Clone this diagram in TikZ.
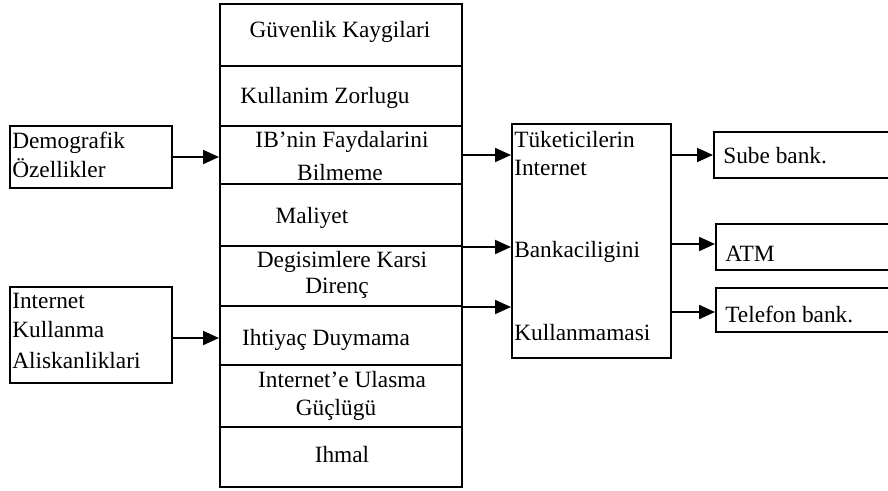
\documentclass[tikz,border=0pt]{standalone}
\usepackage{fontspec}
\setmainfont{Liberation Serif}
\usetikzlibrary{arrows.meta,fit}

\begin{document}
\begin{tikzpicture}[x=0.75pt, y=-0.75pt, font=\fontsize{17.5}{20}\selectfont,
  box/.style={draw, line width=1.5pt, inner sep=0pt},
  lbl/.style={anchor=base, inner sep=0pt},
  lbll/.style={anchor=base west, inner sep=0pt},
  arr/.style={line width=1.5pt, -{Triangle[length=12pt, width=10.5pt]}}]
  \useasboundingbox (0,0) rectangle (888,490);

  % Left boxes: influencing factors
  \node[box, fit={(10,126) (172,188)}] (demo) {};
  \node[lbll] (demo1) at (12,148) {Demografik};
  \node[lbll] (demo2) at (12,177) {Özellikler};

  \node[box, fit={(10,287) (172,383)}] (inet) {};
  \node[lbll] (inet1) at (12,308) {Internet};
  \node[lbll] (inet2) at (12,337) {Kullanma};
  \node[lbll] (inet3) at (12,368) {Aliskanliklari};

  % Middle stack: barriers (cells c1..c8)
  \foreach \i/\top/\bot in {1/4/66, 2/66/126, 3/126/184, 4/184/246, 5/246/306, 6/306/365, 7/365/427, 8/427/487} {
    \node[box, fit={(220,\top) (462,\bot)}] (c\i) {};
  }
  \node[lbl] (c1t) at (340,37) {Güvenlik Kaygilari};
  \node[lbl] (c2t) at (325,103) {Kullanim Zorlugu};
  \node[lbl] (c3t) at (342,147) {IB’nin Faydalarini};
  \node[lbl] (c3u) at (340,180) {Bilmeme};
  \node[lbl] (c4t) at (312,223) {Maliyet};
  \node[lbl] (c5t) at (342,267) {Degisimlere Karsi};
  \node[lbl] (c5u) at (337,293) {Direnç};
  \node[lbl] (c6t) at (326,345) {Ihtiyaç Duymama};
  \node[lbl] (c7t) at (342,387) {Internet’e Ulasma};
  \node[lbl] (c7u) at (336,415) {Güçlügü};
  \node[lbl] (c8t) at (342,462) {Ihmal};

  % Right centre box: outcome
  \node[box, fit={(512,124) (671,358)}] (tuk) {};
  \node[lbll] (tuk1) at (514,147) {Tüketicilerin};
  \node[lbll] (tuk2) at (514,175) {Internet};
  \node[lbll] (tuk3) at (514,257) {Bankaciligini};
  \node[lbll] (tuk4) at (514,340) {Kullanmamasi};

  % Output boxes (run off the right edge)
  \node[box, fit={(714,132) (895,178)}] (sube) {};
  \node[lbll] (sube1) at (723,163) {Sube bank.};
  \node[box, fit={(716,224) (895,270)}] (atm) {};
  \node[lbll] (atm1) at (725,261) {ATM};
  \node[box, fit={(716,288) (895,332)}] (tel) {};
  \node[lbll] (tel1) at (725,322) {Telefon bank.};

  % Arrows
  \draw[arr] (demo.east) -- (demo.east -| c3.west);
  \draw[arr] ([yshift=-2.25pt]inet.east) -- ([yshift=-2.25pt]inet.east -| c6.west);
  \draw[arr] (c3.east) -- (c3.east -| tuk.west);
  \draw[arr] (c4.south east) -- (c4.south east -| tuk.west);
  \draw[arr] (c5.south east) -- (c5.south east -| tuk.west);
  \draw[arr] (sube.west -| tuk.east) -- (sube.west);
  \draw[arr] ([yshift=2.25pt]atm.west -| tuk.east) -- ([yshift=2.25pt]atm.west);
  \draw[arr] ([yshift=-1.5pt]tel.west -| tuk.east) -- ([yshift=-1.5pt]tel.west);
\end{tikzpicture}
\end{document}
